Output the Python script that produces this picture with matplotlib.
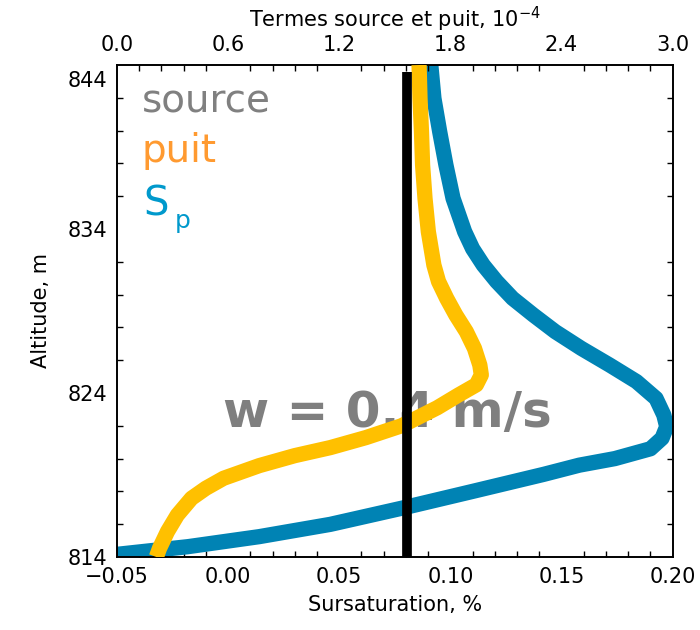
import matplotlib
matplotlib.use("Agg")
import matplotlib.pyplot as plt
from matplotlib.ticker import MultipleLocator, FixedLocator
from matplotlib.transforms import ScaledTranslation

# ---- data ----
source_alt = [814.0, 843.6]
source_val = [1.567, 1.567]          # top axis units (10^-4)

puit_alt = [844.0, 841.97, 839.93, 837.9, 835.87, 833.84, 831.8, 830.8, 829.77, 828.76,
            827.74, 826.72, 825.7, 825.1, 824.5, 823.88, 823.1, 822.0, 821.28, 820.67,
            820.18, 819.57, 818.8, 818.19, 817.58, 816.56, 815.55, 814.53, 814.0]
puit_val = [1.631, 1.636, 1.644, 1.650, 1.663, 1.681, 1.711, 1.736, 1.78, 1.829,
            1.886, 1.93, 1.959, 1.967, 1.94, 1.844, 1.729, 1.536, 1.344, 1.152,
            0.960, 0.768, 0.576, 0.480, 0.403, 0.3265, 0.273, 0.230, 0.213]

sp_alt = [844.0, 841.97, 839.93, 837.9, 835.87, 833.84, 832.8, 831.8, 830.8, 829.77,
          828.76, 827.74, 826.72, 825.7, 824.7, 823.67, 822.66, 821.95, 821.24, 820.6,
          820.0, 819.6, 819.04, 818.0, 816.97, 815.99, 815.24, 814.63, 814.16, 813.9]
sp_val = [0.0912, 0.0926, 0.0952, 0.0980, 0.1012, 0.1064, 0.110, 0.1148, 0.1208, 0.128,
          0.1373, 0.1472, 0.1589, 0.1717, 0.1837, 0.1925, 0.196, 0.1973, 0.1952, 0.190,
          0.174, 0.158, 0.142, 0.110, 0.078, 0.046, 0.014, -0.018, -0.05, -0.058]

alt_ticks = [814, 824, 834, 844]

FS = 15
fig = plt.figure(figsize=(7, 6.3), dpi=100)
ax = fig.add_axes([0.167, 0.1159, 0.794, 0.7809])
ax2 = ax.twiny()

ax.set_xlim(-0.05, 0.20)
ax.set_ylim(814, 844)
ax2.set_xlim(0.0, 3.0)

# curves
ax.plot(sp_val, sp_alt, color="#0083B4", lw=11, solid_joinstyle="round",
        solid_capstyle="butt", zorder=2)
ax2.plot(puit_val, puit_alt, color="#FFC000", lw=11, solid_joinstyle="round",
         solid_capstyle="butt", zorder=3)
ax2.plot(source_val, source_alt, color="black", lw=7, solid_capstyle="butt", zorder=4)

# ticks
ax.xaxis.set_major_locator(MultipleLocator(0.05))
ax.xaxis.set_minor_locator(MultipleLocator(0.01))
ax.yaxis.set_major_locator(FixedLocator(alt_ticks))
ax.yaxis.set_minor_locator(MultipleLocator(2))
ax2.xaxis.set_major_locator(MultipleLocator(0.6))
ax2.xaxis.set_minor_locator(MultipleLocator(0.12))
ax.xaxis.set_major_formatter(plt.FuncFormatter(lambda v, p: f"{v:.2f}".replace("-", "\u2212")))
ax.yaxis.set_major_formatter(plt.FuncFormatter(lambda v, p: f"{v:.0f}"))
ax2.xaxis.set_major_formatter(plt.FuncFormatter(lambda v, p: f"{v:.1f}"))

ax.tick_params(axis="both", which="minor", direction="in", length=4.5, width=1,
               top=False, right=True)
ax.tick_params(axis="both", which="major", direction="in", length=0, width=1,
               labelsize=FS, pad=7, right=True)
ax2.tick_params(axis="x", which="minor", direction="in", length=4.5, width=1)
ax2.tick_params(axis="x", which="major", direction="in", length=0, labelsize=FS, pad=7)

for a in (ax, ax2):
    for s in a.spines.values():
        s.set_linewidth(1.2)

ax.set_xlabel("Sursaturation, %", fontsize=FS, labelpad=6)
ax.set_ylabel("Altitude, m", fontsize=FS, labelpad=12)
ax2.set_xlabel(r"Termes source et puit, 10$^{-4}$", fontsize=FS, labelpad=6)

# shift top-most y label down slightly, like the reference
fig.canvas.draw()
for lab in ax.get_yticklabels():
    if lab.get_text() == "844":
        lab.set_transform(lab.get_transform() + ScaledTranslation(0, -10/72, fig.dpi_scale_trans))

# annotations
ax.text(0.045, 0.905, "source", transform=ax.transAxes, color="#808080",
        fontsize=28, va="baseline", ha="left")
ax.text(0.045, 0.803, "puit", transform=ax.transAxes, color="#FF9A30",
        fontsize=28, va="baseline", ha="left")
ax.text(0.048, 0.695, "S", transform=ax.transAxes, color="#0099CC",
        fontsize=29, va="baseline", ha="left")
ax.text(0.104, 0.668, "p", transform=ax.transAxes, color="#0099CC",
        fontsize=18, va="baseline", ha="left")
ax.text(0.19, 0.264, "w = 0.4 m/s", transform=ax.transAxes, color="#7F7F7F",
        fontsize=36, fontweight="bold", va="baseline", ha="left", zorder=5)

fig.savefig("out.png", dpi=100)
